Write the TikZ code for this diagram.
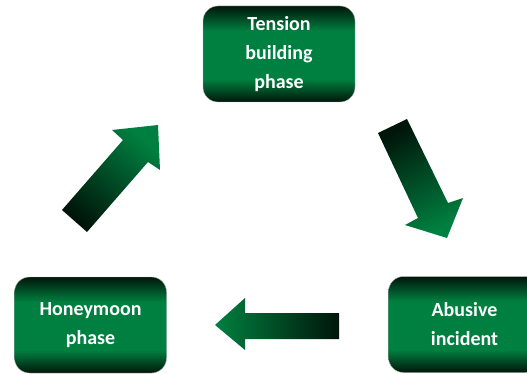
\documentclass[tikz,border=0pt]{standalone}
\usepackage{fontspec}
\setmainfont{Carlito}
\usepackage{xcolor}
\definecolor{phasegreen}{RGB}{0,128,64}
\definecolor{phasedark}{RGB}{0,22,10}
\pgfdeclareverticalshading{phaseshade}{100bp}{color(0bp)=(phasedark); color(25bp)=(phasedark);
    color(37bp)=(phasegreen); color(62bp)=(phasegreen); color(75bp)=(phasedark); color(100bp)=(phasedark)}

\begin{document}
\begin{tikzpicture}[x=1pt, y=-1pt,
    phase/.style={rounded corners=15pt, draw=black!30, thin, shading=phaseshade,
        minimum width=152pt, minimum height=96pt, inner sep=0pt, align=center,
        text=white, font=\bfseries\fontsize{20}{29}\selectfont}]
    \clip (0,0) rectangle (527,374);

    % Tension building
    \node[phase] (tension) at (279,54) {Tension\\building\\phase};

    % Abusive incident
    \node[phase] (abusive) at (464.5,324.5) {Abusive\\incident};

    % Honeymoon
    \node[phase] (honeymoon) at (90.5,325) {Honeymoon\\phase};

    % tension -> abusive
    \path[top color=phasedark, bottom color=phasegreen, shading angle=26]
        (378,133) -- (407,119) -- (448,203) -- (463,198) -- (447,238)
        -- (405,225) -- (418,218) -- cycle;

    % abusive -> honeymoon
    \path[left color=phasegreen, right color=phasedark]
        (339,313) -- (245,313) -- (245,298) -- (215,325) -- (245,350)
        -- (245,339) -- (339,339) -- cycle;

    % honeymoon -> tension
    \path[top color=phasegreen, bottom color=phasedark, shading angle=-41]
        (62,210) -- (123,140) -- (112,130) -- (158,125) -- (160,170)
        -- (148,162) -- (87,232) -- cycle;
\end{tikzpicture}
\end{document}
